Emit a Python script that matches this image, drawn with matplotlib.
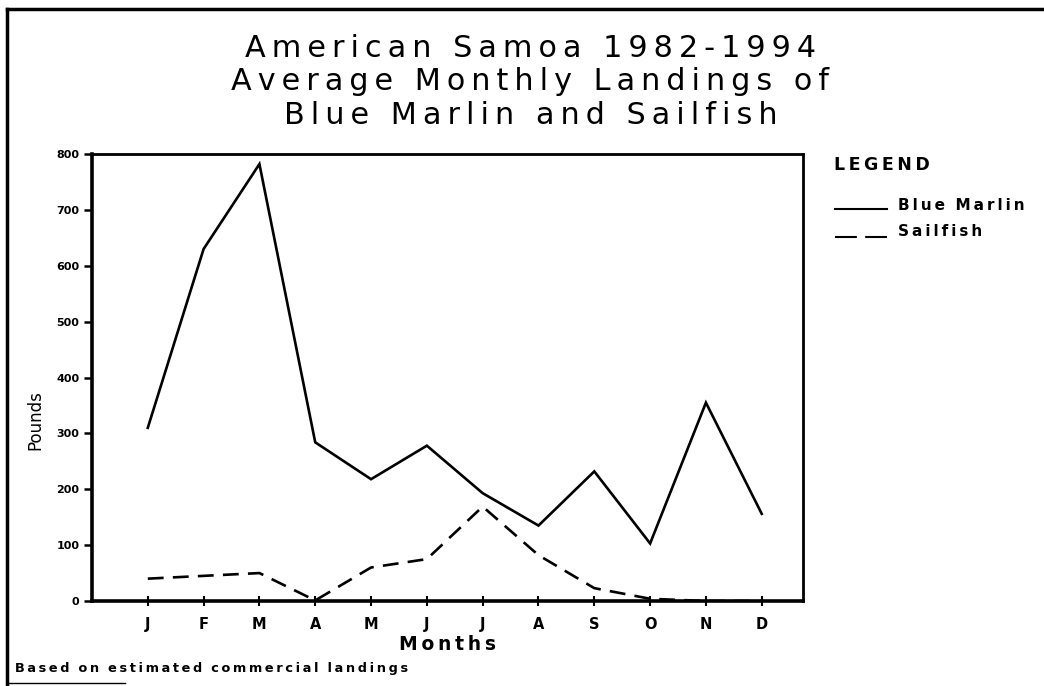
import matplotlib.pyplot as plt
from matplotlib.lines import Line2D

months = ["J", "F", "M", "A", "M", "J", "J", "A", "S", "O", "N", "D"]
blue_marlin = [310, 630, 782, 284, 218, 278, 193, 135, 232, 103, 355, 156]
sailfish = [40, 45, 50, 1, 60, 75, 169, 82, 23, 4, 0, 0]
y_ticks = [0, 100, 200, 300, 400, 500, 600, 700, 800]

THIN = "\u2009"


def spaced(s, gap=THIN):
    # the original uses a wide plotter font, so spread the letters out
    return gap.join(s)


fig = plt.figure(figsize=(10.44, 6.86), dpi=100)
ax = fig.add_axes([0.0881, 0.1239, 0.6811, 0.6516])

x = list(range(1, len(months) + 1))
ax.plot(x, blue_marlin, color="black", lw=1.9, solid_joinstyle="miter")
ax.plot(x, sailfish, color="black", lw=1.9, dashes=(6, 3.5))

ax.set_xlim(0, 12.74)
ax.set_ylim(0, 800)
ax.set_xticks(x)
ax.set_xticklabels(months, fontsize=10.5, fontweight="heavy")
ax.set_yticks(y_ticks)
ax.set_yticklabels([str(v) for v in y_ticks], fontsize=8, fontweight="heavy")
ax.tick_params(axis="x", direction="inout", length=7, width=1.5, pad=8)
ax.tick_params(axis="y", direction="out", length=6, width=1.8, pad=3)
for s in ax.spines.values():
    s.set_linewidth(2.0)
ax.spines["left"].set_linewidth(2.6)
ax.spines["bottom"].set_linewidth(2.6)

ax.set_xlabel(spaced("Months"), fontsize=13.5, fontweight="bold", labelpad=2)
fig.text(0.034, 0.388, "Pounds", rotation=90, ha="center", va="center",
         fontsize=12, family=["Liberation Sans Narrow", "DejaVu Sans"])

title_lines = ["American Samoa 1982-1994",
               "Average Monthly Landings of",
               "Blue Marlin and Sailfish"]
fig.text(0.508, 0.8805, "\n".join(spaced(t) for t in title_lines),
         ha="center", va="center", fontsize=21.8, linespacing=1.18)

# legend drawn by hand to match the side panel
fig.text(0.799, 0.759, spaced("LEGEND"), fontsize=12.5, fontweight="bold", va="center")
fig.add_artist(Line2D([0.800, 0.850], [0.695, 0.695], color="black", lw=1.5))
fig.text(0.860, 0.700, spaced("Blue") + "  " + spaced("Marlin"), fontsize=11,
         fontweight="heavy", va="center")
fig.add_artist(Line2D([0.800, 0.850], [0.654, 0.654], color="black", lw=1.5,
                      dashes=(10.5, 4)))
fig.text(0.860, 0.663, spaced("Sailfish"), fontsize=11, fontweight="heavy", va="center")

foot = "  ".join(spaced(w) for w in "Based on estimated commercial landings".split())
fig.text(0.014, 0.026, foot, fontsize=9.3, fontweight="heavy", va="center")

# outer frame
fig.add_artist(Line2D([0.007, 1.0], [0.987, 0.987], color="black", lw=2.5))
fig.add_artist(Line2D([0.007, 0.007], [0.003, 0.987], color="black", lw=2.5))
fig.add_artist(Line2D([0.007, 0.12], [0.004, 0.004], color="black", lw=1.0))

fig.savefig("out.png", dpi=100)
